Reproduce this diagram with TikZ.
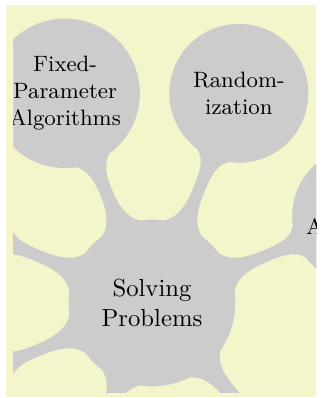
\documentclass[tikz,border=0pt]{standalone}
\usetikzlibrary{mindmap}
\definecolor{manualYellow}{rgb}{0.96,0.96,0.8}

\begin{document}
\begin{tikzpicture}[
  mindmap, concept color=black!20,
  main/.style={concept, minimum size=2.33cm, text width=2.2cm, inner sep=0pt,
               font=\normalsize},
  sub/.style={concept, minimum size=1.935cm, text width=1.8cm, inner sep=0pt,
              font=\small},
  bar/.style={circle connection bar switch color=from (black!20) to (black!20)}
]
  \useasboundingbox (-2.163,-1.352) rectangle (2.405,4.312);
  \fill[manualYellow] (-2.078,-1.331) rectangle (2.341,4.241);
  \clip (-1.971,-1.274) rectangle (2.341,4.141);

  \node[main] (solve) at (0,0) {Solving\\Problems};
  \node[concept, minimum size=3.87cm] (parent) at (-49:4.7) {};
  \node[sub] (exact) at (22.5:3.23) {Exact\\Algorithms};
  \node[sub] (random) at (67.5:3.23) {Random-\\ization};
  \node[sub] (fixed) at (112.5:3.23) {Fixed-\\Parameter\\Algorithms};
  \foreach \a/\n in {157.5/parallel, 202.5/partial, 247.5/approx} {
    \node[sub] (\n) at (\a:3.23) {};
  }
  \foreach \n in {parent, exact, random, fixed, parallel, partial, approx} {
    \path (solve) to[bar] (\n);
  }
\end{tikzpicture}
\end{document}
